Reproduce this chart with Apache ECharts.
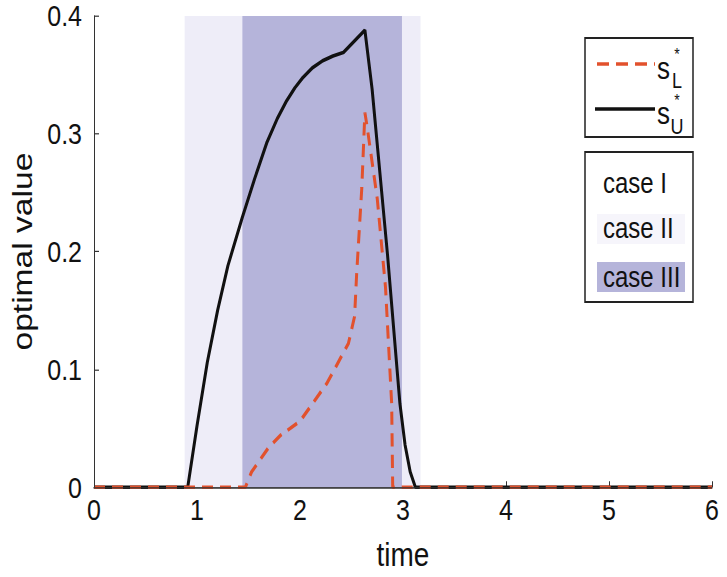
<!DOCTYPE html>
<html>
<head>
<meta charset="utf-8">
<script src="https://cdn.jsdelivr.net/npm/echarts@6/dist/echarts.min.js"></script>
<style>
  html, body { margin: 0; padding: 0; background: #fff; width: 727px; height: 577px; }
  /* the figure is stretched vertically (about 1.2x), so draw flat and stretch */
  #chart { width: 727px; height: 481px; transform: scaleY(1.2); transform-origin: 0 0; }
</style>
</head>
<body>
<div id="chart"></div>
<script>
// s_U* (solid black)
var sUTime  = [0, 0.91, 1.00, 1.10, 1.20, 1.30, 1.44, 1.56, 1.68, 1.78, 1.87, 1.95, 2.03, 2.12, 2.22, 2.32, 2.42, 2.63, 2.70, 2.85, 2.97, 3.02, 3.07, 3.12, 6];
var sUValue = [0, 0, 0.052, 0.106, 0.150, 0.188, 0.229, 0.262, 0.293, 0.313, 0.328, 0.339, 0.348, 0.356, 0.362, 0.366, 0.369, 0.388, 0.338, 0.197, 0.071, 0.036, 0.013, 0, 0];
// s_L* (red dashed)
var sLTime  = [0, 1.47, 1.53, 1.69, 1.81, 2.00, 2.13, 2.26, 2.47, 2.53, 2.55, 2.60, 2.63, 2.65, 2.75, 2.83, 2.89, 2.90, 6];
var sLValue = [0, 0, 0.013, 0.033, 0.044, 0.056, 0.072, 0.088, 0.122, 0.145, 0.181, 0.254, 0.318, 0.307, 0.245, 0.170, 0.071, 0, 0];
// shaded time ranges of each case
var caseIIRanges  = [[0.88, 1.44], [2.99, 3.17]];
var caseIIIRanges = [[1.44, 2.99]];
var xTicks = [0, 1, 2, 3, 4, 5, 6];
var yTicks = [0, 0.1, 0.2, 0.3, 0.4];

var SY = 1.2;
function Y(p) { return p / SY; }
var FONT = 'Liberation Sans, Arial, sans-serif';
var RED = '#E2512D';
var C2 = '#EEEDF8';
var C3 = '#B5B4DA';

function pairs(t, v) { return t.map(function (x, i) { return [x, v[i]]; }); }
function areas(r, color) {
  return r.map(function (a) {
    return [{ xAxis: a[0], itemStyle: { color: color } }, { xAxis: a[1] }];
  });
}
function txt(x, y, s, size, align) {
  return {
    type: 'text', x: x, y: y, z: 100,
    style: { text: s, font: size + 'px ' + FONT, fill: '#111',
      textAlign: align || 'left', align: align || 'left',
      textVerticalAlign: 'middle', verticalAlign: 'middle' }
  };
}
// star above, subscript letter below, as one text
function supSub(x, y, letter) {
  return {
    type: 'text', x: x, y: y, z: 100,
    style: {
      text: '{a|*}\n{b|' + letter + '}', fill: '#111',
      align: 'center', textAlign: 'center',
      verticalAlign: 'middle', textVerticalAlign: 'middle',
      rich: {
        a: { fontFamily: FONT, fontSize: 14, lineHeight: 24, align: 'center' },
        b: { fontFamily: FONT, fontSize: 18, lineHeight: 20, align: 'center' }
      }
    }
  };
}

var Chart = echarts.init(document.getElementById('chart'), null, { renderer: 'svg' });

var option = {
  animation: false,
  grid: { left: 94, right: 15, top: Y(16), bottom: Y(85) },
  xAxis: [{
    type: 'value', min: xTicks[0], max: xTicks[xTicks.length - 1], interval: 1,
    name: 'time', nameLocation: 'middle', nameGap: 42,
    nameTextStyle: { fontFamily: FONT, fontSize: 28, color: '#111' },
    axisLine: { show: true, lineStyle: { color: '#333', width: 1 } },
    axisTick: { show: true, inside: true, length: 5, lineStyle: { color: '#333' } },
    axisLabel: { fontFamily: FONT, fontSize: 25, color: '#111', margin: 6 },
    splitLine: { show: false }
  }, {
    type: 'value', position: 'top', min: 0, max: 6, z: 10,
    axisLine: { show: true, lineStyle: { color: '#333', width: 1 } },
    axisTick: { show: false }, axisLabel: { show: false }, splitLine: { show: false }
  }],
  yAxis: [{
    type: 'value', min: yTicks[0], max: yTicks[yTicks.length - 1], interval: 0.1,
    name: 'optimal value', nameLocation: 'middle', nameGap: 48,
    nameTextStyle: { fontFamily: FONT, fontSize: 28, color: '#111' },
    axisLine: { show: true, lineStyle: { color: '#333', width: 1 } },
    axisTick: { show: true, inside: true, length: 5, lineStyle: { color: '#333' } },
    axisLabel: { fontFamily: FONT, fontSize: 25, color: '#111', margin: 12 },
    splitLine: { show: false }
  }, {
    type: 'value', position: 'right', min: 0, max: 0.4, z: 10,
    axisLine: { show: true, lineStyle: { color: '#333', width: 1 } },
    axisTick: { show: false }, axisLabel: { show: false }, splitLine: { show: false }
  }],
  series: [{
    name: 'cases', type: 'line', data: [], z: 1, silent: true,
    markArea: {
      silent: true,
      data: areas(caseIIRanges, C2).concat(areas(caseIIIRanges, C3))
    }
  }, {
    name: 'sU', type: 'line', data: pairs(sUTime, sUValue), z: 3,
    showSymbol: false,
    lineStyle: { color: '#111', width: 3 }
  }, {
    name: 'sL', type: 'line', data: pairs(sLTime, sLValue), z: 4,
    showSymbol: false,
    lineStyle: { color: RED, width: 3, type: [11, 7] }
  }],
  graphic: [
    // legend box of the two lines
    { type: 'rect', z: 90, shape: { x: 585, y: Y(38), width: 108, height: Y(137) - Y(38) },
      style: { fill: '#fff', stroke: '#222', lineWidth: 1.5 } },
    { type: 'line', z: 95, shape: { x1: 597, y1: Y(64), x2: 655, y2: Y(64) },
      style: { stroke: RED, lineWidth: 3, lineDash: [12, 7] } },
    { type: 'line', z: 95, shape: { x1: 595, y1: Y(109), x2: 655, y2: Y(109) },
      style: { stroke: '#111', lineWidth: 3 } },
    txt(657, Y(68), 's', 26),
    supSub(677, Y(66), 'L'),
    txt(657, Y(113), 's', 26),
    supSub(677, Y(112), 'U'),
    // legend box of the cases
    { type: 'rect', z: 90, shape: { x: 585, y: Y(152), width: 108, height: Y(302) - Y(152) },
      style: { fill: '#fff', stroke: '#222', lineWidth: 1.5 } },
    { type: 'rect', z: 92, shape: { x: 597, y: Y(214), width: 88, height: Y(244) - Y(214) },
      style: { fill: '#F6F5FB' } },
    { type: 'rect', z: 92, shape: { x: 597, y: Y(262), width: 88, height: Y(292) - Y(262) },
      style: { fill: C3 } },
    txt(603, Y(183), 'case I', 24),
    txt(603, Y(228), 'case II', 24),
    txt(603, Y(277), 'case III', 24)
  ]
};
Chart.setOption(option);
</script>
</body>
</html>
